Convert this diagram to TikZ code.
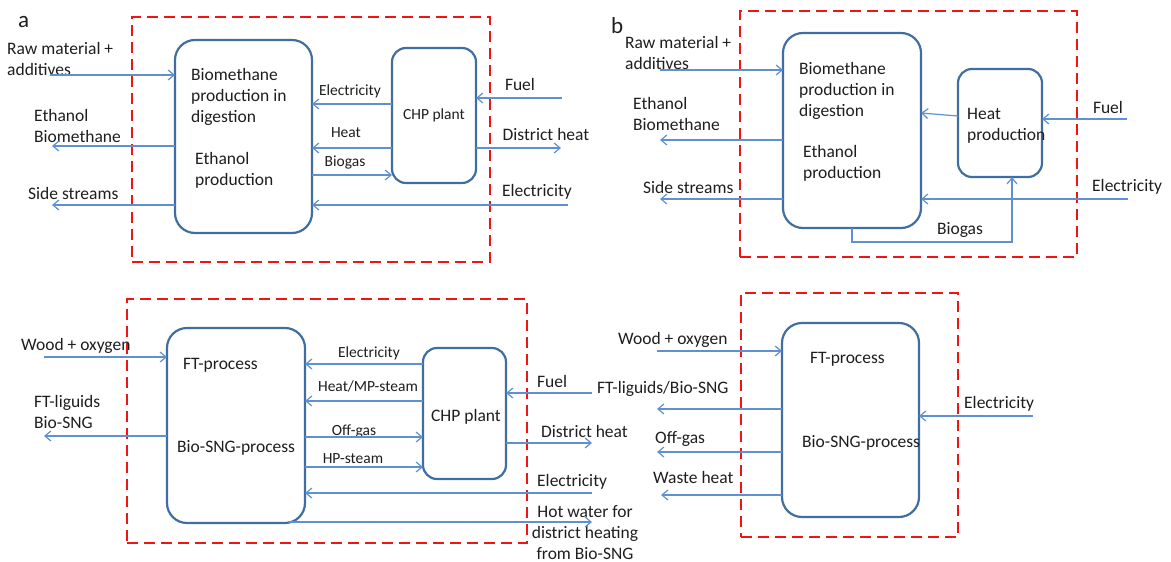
\documentclass[tikz,border=0pt]{standalone}
\usepackage{fontspec}
\setmainfont{Carlito}
\usetikzlibrary{arrows.meta,calc}
\definecolor{arrblue}{RGB}{95,145,210}
\definecolor{boxblue}{RGB}{65,110,160}
\definecolor{frred}{RGB}{240,20,20}
\definecolor{txt}{RGB}{30,30,30}
\begin{document}
\begin{tikzpicture}[x=1pt,y=-1pt,
  proc/.style={draw=boxblue, line width=2.2pt, rounded corners=20pt, inner sep=0pt, outer sep=0pt},
  chpbox/.style={draw=boxblue, line width=2.2pt, rounded corners=14pt, inner sep=0pt, outer sep=0pt},
  frame/.style={draw=frred, line width=2.8pt, dash pattern=on 11pt off 6pt, inner sep=0pt},
  arr/.style={draw=arrblue, line width=1.2pt, -{Straight Barb[length=6pt,width=10pt,line width=1.2pt]}},
  lab/.style={font=\fontsize{17.5}{21}\selectfont, text=txt, inner sep=0pt, align=left},
  slab/.style={font=\fontsize{15.5}{19}\selectfont, text=txt, inner sep=0pt, align=left},
  panel/.style={font=\fontsize{23}{26}\selectfont, text=txt, inner sep=0pt},
]
\useasboundingbox (0,0) rectangle (1171,562);

% ---------------- frames ----------------
\node[frame, minimum width=358pt, minimum height=245pt] (fa) at (311,139.5) {};
\node[frame, minimum width=337pt, minimum height=246pt] (fb) at (908.5,134) {};
\node[frame, minimum width=400pt, minimum height=244pt] (fc) at (327,421) {};
\node[frame, minimum width=217pt, minimum height=244pt] (fd) at (849.5,415) {};

% ---------------- panel a ----------------
\node[panel, anchor=west] (la) at (18,22) {a};
\node[proc, minimum width=137pt, minimum height=193pt] (Am) at (243.5,136.5) {};
\node[chpbox, minimum width=84pt, minimum height=135pt] (Ac) at (434,115.5) {};
\node[slab] (Act) at (Ac.center) {CHP plant};
\node[lab, anchor=west] (Amt1) at (191,97) {Biomethane\\production in\\digestion};
\node[lab, anchor=west] (Amt2) at (195,170.5) {Ethanol\\production};

\node[lab, anchor=west] (Araw) at (7,58.5) {Raw material +\\additives};
\node[lab, anchor=west] (Aeth) at (34,126) {Ethanol\\Biomethane};
\node[lab, anchor=west] (Aside) at (28,193) {Side streams};
\node[slab] (Ael) at (350,91) {Electricity};
\node[slab] (Aht) at (346,133) {Heat};
\node[slab] (Abg) at (345,162) {Biogas};
\node[lab] (Afu) at (520,84) {Fuel};
\node[lab] (Adh) at (546,134) {District heat};
\node[lab] (Ael2) at (537,192) {Electricity};

\coordinate (a1) at (50,75);
\coordinate (a2) at (52,146);
\coordinate (a3) at (52,205);
\coordinate (a4) at (562,98);
\coordinate (a5) at (561,148);
\coordinate (a6) at (568,205);
\draw[arr] (a1) -- (a1 -| Am.west);
\draw[arr] (a2 -| Am.west) -- (a2);
\draw[arr] (a3 -| Am.west) -- (a3);
\draw[arr] (Ac.west |- 0,104) -- (Am.east |- 0,104);
\draw[arr] (Ac.west |- 0,148) -- (Am.east |- 0,148);
\draw[arr] (Am.east |- 0,175) -- (Ac.west |- 0,175);
\draw[arr] (a4) -- (a4 -| Ac.east);
\draw[arr] (a5 -| Ac.east) -- (a5);
\draw[arr] (a6) -- (a6 -| Am.east);

% ---------------- panel b ----------------
\node[panel, anchor=west] (lb) at (611,26) {b};
\node[proc, minimum width=138pt, minimum height=195pt] (Bm) at (852,130.5) {};
\node[chpbox, minimum width=84pt, minimum height=108pt] (Bh) at (1000,123) {};
\node[lab, anchor=west] (Bht) at (967,125.5) {Heat\\production};
\node[lab, anchor=west] (Bmt1) at (799,91) {Biomethane\\production in\\digestion};
\node[lab, anchor=west] (Bmt2) at (803,163.5) {Ethanol\\production};

\node[lab, anchor=west] (Braw) at (625,53) {Raw material +\\additives};
\node[lab, anchor=west] (Beth) at (633,114) {Ethanol\\Biomethane};
\node[lab, anchor=west] (Bside) at (643,187) {Side streams};
\node[lab] (Bfu) at (1108,107) {Fuel};
\node[lab, anchor=west] (Bel) at (1092,187) {Electricity};
\node[lab] (Bbg) at (960,230) {Biogas};

\coordinate (b1) at (660,70);
\coordinate (b2) at (660,140);
\coordinate (b3) at (660,199);
\coordinate (b4) at (1127,119);
\coordinate (b5) at (1128,199);
\coordinate (bg) at (1012,242);
\draw[arr] (b1) -- (b1 -| Bm.west);
\draw[arr] (b2 -| Bm.west) -- (b2);
\draw[arr] (b3 -| Bm.west) -- (b3);
\draw[arr] (Bh.west |- 0,116) -- (Bm.east |- 0,113);
\draw[arr] (b4) -- (b4 -| Bh.east);
\draw[arr] (b5) -- (b5 -| Bm.east);
\draw[arr] (Bm.south) |- (bg) -- (bg |- Bh.south);

% ---------------- panel c ----------------
\node[proc, minimum width=138pt, minimum height=195pt] (Cm) at (236,425.5) {};
\node[chpbox, minimum width=83pt, minimum height=131pt] (Cc) at (464.5,413.5) {};
\node[lab] (Cct) at (466,417) {CHP plant};
\node[lab, anchor=west] (Cmt1) at (183,365) {FT-process};
\node[lab, anchor=west] (Cmt2) at (177,448) {Bio-SNG-process};

\node[lab, anchor=west] (Cwood) at (21,346) {Wood + oxygen};
\node[lab, anchor=west] (Cft) at (34,411.5) {FT-liguids\\Bio-SNG};
\node[slab] (Cel) at (369,353) {Electricity};
\node[slab] (Cht) at (368,386) {Heat/MP-steam};
\node[slab] (Cog) at (354,431) {Off-gas};
\node[slab] (Chp) at (353,459) {HP-steam};
\node[lab, anchor=west] (Cfu) at (537,381) {Fuel};
\node[lab, anchor=west] (Cdh) at (541,431) {District heat};
\node[lab, anchor=west] (Cel2) at (537,482) {Electricity};
\node[lab, align=center] (Chw) at (585,533) {Hot water for\\district heating\\from Bio-SNG};

\coordinate (c1) at (44,357);
\coordinate (c2) at (44,436);
\coordinate (c3) at (592,393);
\coordinate (c4) at (592,443);
\coordinate (c5) at (592,493);
\coordinate (c6) at (592,522);
\coordinate (c7) at (288,522);
\draw[arr] (c1) -- (c1 -| Cm.west);
\draw[arr] (c2 -| Cm.west) -- (c2);
\draw[arr] (Cc.west |- 0,364) -- (Cm.east |- 0,364);
\draw[arr] (Cc.west |- 0,401) -- (Cm.east |- 0,401);
\draw[arr] (Cm.east |- 0,437) -- (Cc.west |- 0,437);
\draw[arr] (Cm.east |- 0,467) -- (Cc.west |- 0,467);
\draw[arr] (c3) -- (c3 -| Cc.east);
\draw[arr] (c4 -| Cc.east) -- (c4);
\draw[arr] (c5) -- (c5 -| Cm.east);
\draw[arr] (c7) -- (c6);

% ---------------- panel d ----------------
\node[proc, minimum width=137pt, minimum height=194pt] (Dm) at (850.5,420) {};
\node[lab, anchor=west] (Dmt1) at (810,359) {FT-process};
\node[lab, anchor=west] (Dmt2) at (802,443) {Bio-SNG-process};

\node[lab, anchor=west] (Dwood) at (618,340) {Wood + oxygen};
\node[lab, anchor=west] (Dft) at (597,389) {FT-liguids/Bio-SNG};
\node[lab, anchor=west] (Dog) at (655,439) {Off-gas};
\node[lab, anchor=west] (Dwh) at (653,477) {Waste heat};
\node[lab, anchor=west] (Del) at (964,404) {Electricity};

\coordinate (d1) at (657,351);
\coordinate (d2) at (657,409);
\coordinate (d3) at (657,452);
\coordinate (d4) at (661,495);
\coordinate (d5) at (1033,416);
\draw[arr] (d1) -- (d1 -| Dm.west);
\draw[arr] (d2 -| Dm.west) -- (d2);
\draw[arr] (d3 -| Dm.west) -- (d3);
\draw[arr] (d4 -| Dm.west) -- (d4);
\draw[arr] (d5) -- (d5 -| Dm.east);
\end{tikzpicture}
\end{document}
